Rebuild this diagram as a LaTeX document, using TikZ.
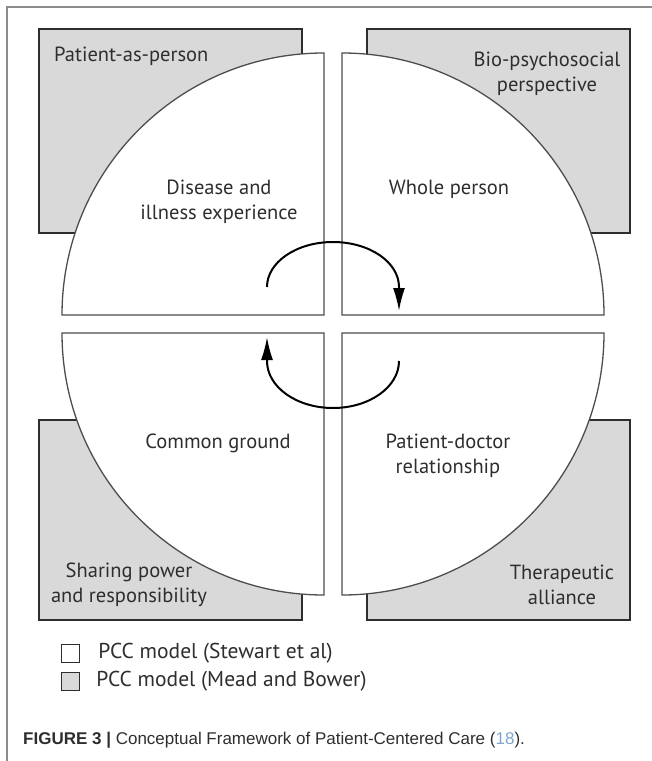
\documentclass[tikz,border=0pt]{standalone}
\usepackage{fontspec}
\setmainfont{PT Sans}
\newfontfamily\capfont{Liberation Sans}
\usetikzlibrary{arrows.meta, positioning}

\definecolor{boxgray}{HTML}{D9D9D9}
\definecolor{inkgray}{HTML}{2E2E2E}
\definecolor{framegray}{HTML}{8C8C8C}
\definecolor{reflink}{HTML}{7FA7CC}

\tikzset{
  mbox/.style={draw=inkgray, fill=boxgray, line width=1.6pt, inner sep=0pt, minimum width=263pt},
  quarter/.style={draw=inkgray!85, fill=white, line width=1.3pt},
  lbl/.style={align=center, inner sep=0pt, text=inkgray},
  cyc/.style={->, line width=2pt, black},
  legsq/.style={draw=inkgray, line width=1.3pt, minimum size=18pt, inner sep=0pt},
}

\begin{document}
\begin{tikzpicture}[x=1pt, y=-1pt, >={Latex[length=23pt, width=12pt]}, font=\fontsize{20.5}{25}\selectfont, node distance=18pt]
\useasboundingbox (0,0) rectangle (652,761);

% frame
\draw[framegray, line width=1.3pt] (7,761) -- (7,7) -- (652,7);

% Mead and Bower
\node[mbox, minimum height=204pt] (ppbox) at (170.5,131) {};
\node[mbox, minimum height=204pt] (bpbox) at (498.5,131) {};
\node[mbox, minimum height=200pt] (spbox) at (170.5,520) {};
\node[mbox, minimum height=200pt] (tabox) at (498.5,520) {};

% Stewart et al
\draw[quarter] (324,315) -- (62,315) arc[start angle=180, end angle=270, radius=262] -- cycle;
\draw[quarter] (342,315) -- (342,53) arc[start angle=270, end angle=360, radius=262] -- cycle;
\draw[quarter] (324,333) -- (62,333) arc[start angle=180, end angle=90, radius=262] -- cycle;
\draw[quarter] (342,333) -- (604,333) arc[start angle=0, end angle=90, radius=262] -- cycle;

% cycle arrows
\coordinate (upl) at (267,287);
\coordinate (lor) at (399,361);
\draw[cyc] (upl) arc[start angle=180, end angle=360, x radius=66, y radius=45] -- ++(0,24);
\draw[cyc] (lor) arc[start angle=0, end angle=180, x radius=66, y radius=47] -- ++(0,-24);

\node[lbl, anchor=west] (pap) at (54,56) {Patient-as-person};
\node[lbl] (bps) at (547,74) {Bio-psychosocial\\perspective};
\node[lbl] (die) at (219,202) {Disease and\\illness experience};
\node[lbl] (whp) at (449,189) {Whole person};
\node[lbl] (cog) at (218,443) {Common ground};
\node[lbl] (pdr) at (448,455.5) {Patient-doctor\\relationship};
\node[lbl] (spr) at (129,584.5) {Sharing power\\and responsibility};
\node[lbl] (tha) at (562,584.5) {Therapeutic\\alliance};

% legend
\node[legsq, fill=white] (stsq) at (70.5,653.5) {};
\node[legsq, fill=boxgray] (mbsq) at (70.5,681.5) {};
\begin{scope}[font=\fontsize{21.5}{25}\selectfont]
\node[lbl, right=of stsq] (stx) {PCC model (Stewart et al)};
\node[lbl, right=16pt of mbsq] (mbx) {PCC model (Mead and Bower)};
\end{scope}

\node[anchor=west, inner sep=0pt, text=inkgray, font=\capfont\fontsize{17}{20}\selectfont] (cap) at (23,740)
  {\textbf{FIGURE 3 |} Conceptual Framework of Patient-Centered Care ({\color{reflink}18}).};
\end{tikzpicture}
\end{document}
